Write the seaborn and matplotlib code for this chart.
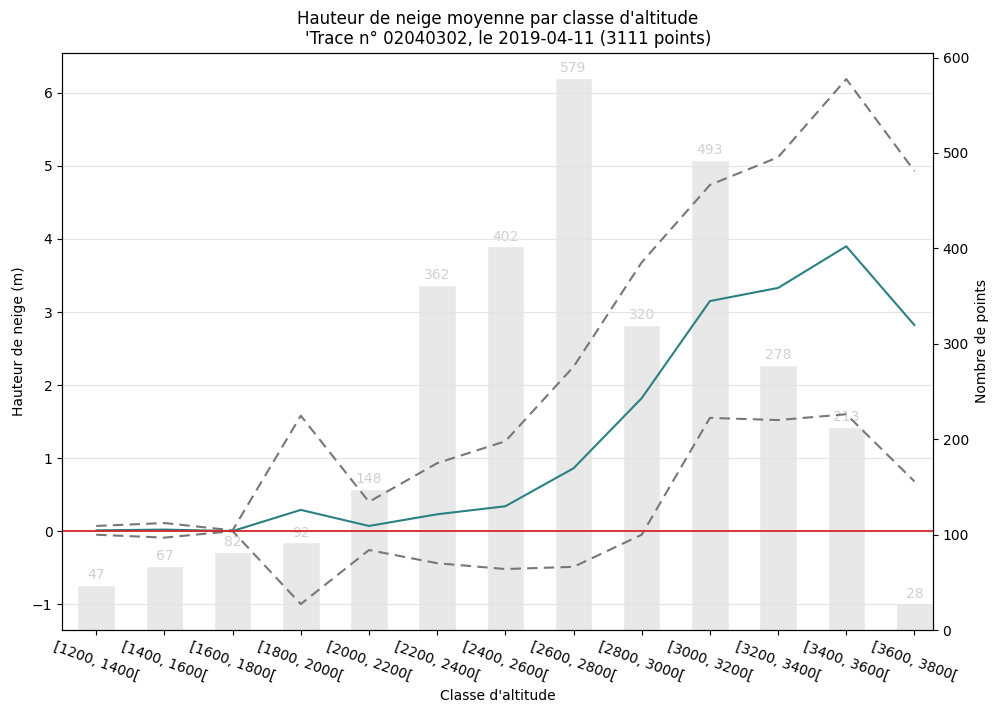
import numpy as np
import pandas as pd
import matplotlib
matplotlib.use("Agg")
import matplotlib.pyplot as plt
import seaborn as sns

# ── DATA ─────────────────────────────────────────────────────
classes = ["[1200, 1400[", "[1400, 1600[", "[1600, 1800[", "[1800, 2000[",
           "[2000, 2200[", "[2200, 2400[", "[2400, 2600[", "[2600, 2800[",
           "[2800, 3000[", "[3000, 3200[", "[3200, 3400[", "[3400, 3600[",
           "[3600, 3800["]
nb_points = [47, 67, 82, 92, 148, 362, 402, 579, 320, 493, 278, 213, 28]
h_moy = [0.01, 0.02, 0.0, 0.29, 0.07, 0.23, 0.34, 0.86, 1.82, 3.15, 3.33, 3.90, 2.82]
h_sup = [0.07, 0.11, 0.01, 1.58, 0.40, 0.93, 1.23, 2.25, 3.68, 4.74, 5.12, 6.19, 4.93]
h_inf = [-0.05, -0.09, 0.0, -1.00, -0.26, -0.44, -0.52, -0.49, -0.05, 1.55, 1.52, 1.60, 0.68]

df = pd.DataFrame({"pos": np.arange(len(classes)), "classe": classes,
                   "n": nb_points, "moy": h_moy, "sup": h_sup, "inf": h_inf})

# ── FIGURE ───────────────────────────────────────────────────
sns.set_style("ticks")
plt.rcParams["font.family"] = ["DejaVu Sans"]
plt.rcParams.update({"text.color": "black", "axes.labelcolor": "black",
                     "xtick.color": "black", "ytick.color": "black"})

fig, ax = plt.subplots(figsize=(10.02, 7.04), dpi=100)
fig.subplots_adjust(left=0.062, right=0.931, top=0.925, bottom=0.105)
ax2 = ax.twinx()

# bars: number of points per class (right axis)
sns.barplot(data=df, x="pos", y="n", native_scale=True, width=0.55,
            color="#e8e8e8", saturation=1, ax=ax2, zorder=1)
ax2.bar_label(ax2.containers[0], labels=[str(v) for v in nb_points],
              color="#d0d0d0", fontsize=10, padding=2)
ax2.set_ylim(0, 605)
ax2.set_yticks(range(0, 601, 100))
ax2.set_ylabel("Nombre de points")

# lines: mean snow depth +/- spread (left axis)
ax.set_zorder(ax2.get_zorder() + 1)
ax.patch.set_visible(False)
ax.yaxis.grid(True, color="#e4e4e4", lw=0.8)
sns.lineplot(data=df, x="pos", y="sup", ax=ax, color="#777777", lw=1.5,
             linestyle=(0, (5, 3)))
sns.lineplot(data=df, x="pos", y="inf", ax=ax, color="#777777", lw=1.5,
             linestyle=(0, (5, 3)))
sns.lineplot(data=df, x="pos", y="moy", ax=ax, color="#2b8080", lw=1.5)
ax.axhline(0, color="#d62728", lw=1.3)

ax.set_ylim(-1.356, 6.55)
ax.set_yticks(range(-1, 7))
ax.set_xlim(-0.5, 12.27)
ax.set_xticks(df["pos"])
ax.set_xticklabels(classes, rotation=-20, ha="center", fontsize=10)
ax.set_xlabel("Classe d'altitude")
ax.set_ylabel("Hauteur de neige (m)")
ax.set_title("Hauteur de neige moyenne par classe d'altitude\n"
             "    'Trace n° 02040302, le 2019-04-11 (3111 points)", fontsize=12)

for a in (ax, ax2):
    for s in a.spines.values():
        s.set_visible(True)
        s.set_color("black")

plt.savefig("out.png", dpi=100)
